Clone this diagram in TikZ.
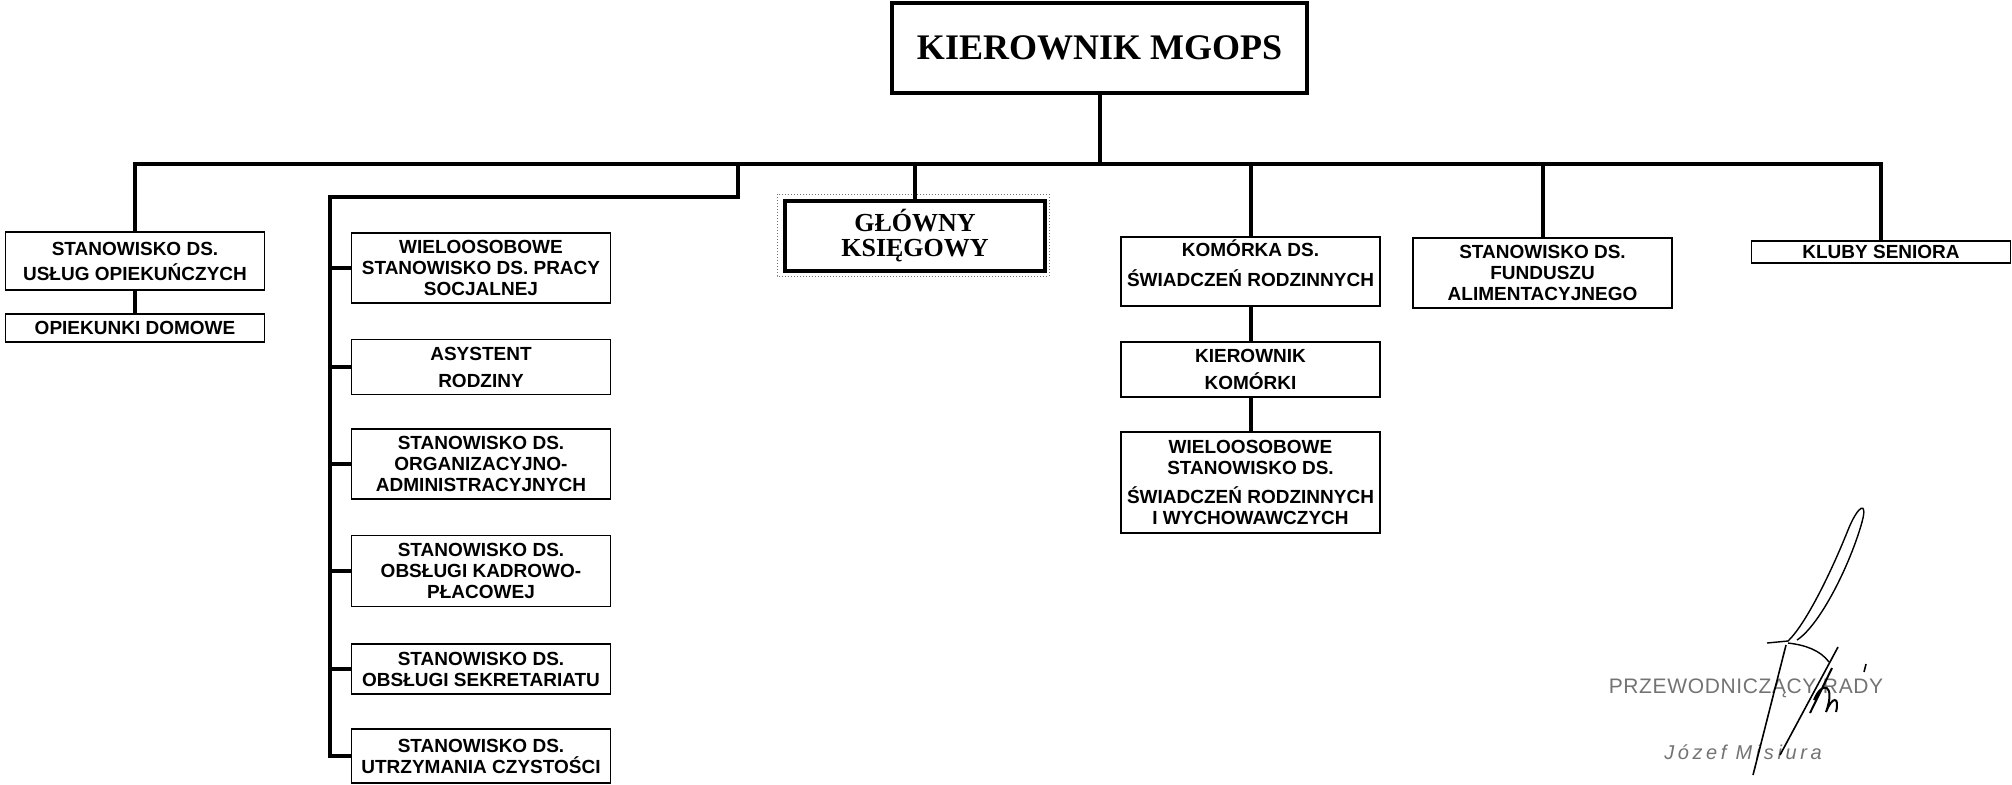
\documentclass[tikz,border=0pt]{standalone}
\usepackage{fontspec}
\newfontfamily\boxfont{Liberation Sans}
\newfontfamily\headfont{Liberation Serif}
\newfontfamily\stampfont[LetterSpace=3]{Liberation Sans}
\newfontfamily\namefont[LetterSpace=18]{Liberation Sans}

\begin{document}
\begin{tikzpicture}[x=0.5pt,y=-0.5pt,
    box/.style={draw,line width=0.8pt,align=center,inner sep=0pt,minimum width=129.5pt,
      font=\boxfont\bfseries\fontsize{9.5}{10.5}\selectfont},
    head/.style={draw,line width=2pt,align=center,inner sep=0pt,
      font=\headfont\bfseries\fontsize{18}{21}\selectfont},
    conn/.style={line width=2pt},
    stamp/.style={inner sep=0pt,text=black!55}]
  \useasboundingbox (0,0) rectangle (2012,784);
  \node[head,minimum width=207.5pt,minimum height=45pt] (top) at (1099.5,48) {KIEROWNIK MGOPS};
  \node[box,minimum height=29pt] (usl) at (135,261) {STANOWISKO DS.\\[2pt]USŁUG OPIEKUŃCZYCH};
  \node[box,minimum height=14pt] (opk) at (135,328) {OPIEKUNKI DOMOWE};
  \node[box,minimum height=35pt] (prac) at (481,268) {WIELOOSOBOWE\\STANOWISKO DS. PRACY\\SOCJALNEJ};
  \node[box,minimum height=27.5pt] (asys) at (481,367) {ASYSTENT\\[3pt]RODZINY};
  \node[box,minimum height=35pt] (org) at (481,464) {STANOWISKO DS.\\ORGANIZACYJNO-\\ADMINISTRACYJNYCH};
  \node[box,minimum height=35.5pt] (kadr) at (481,571) {STANOWISKO DS.\\OBSŁUGI KADROWO-\\PŁACOWEJ};
  \node[box,minimum height=25pt] (sekr) at (481,669) {STANOWISKO DS.\\OBSŁUGI SEKRETARIATU};
  \node[box,minimum height=27pt] (czys) at (481,756) {STANOWISKO DS.\\UTRZYMANIA CZYSTOŚCI};
  \node[head,line width=2.2pt,minimum width=130pt,minimum height=35pt,
    font=\headfont\bfseries\fontsize{13}{12.5}\selectfont] (glow) at (915,236) {GŁÓWNY\\KSIĘGOWY};
  \draw[black!55,line width=0.5pt,densely dotted] (777,194) rectangle (1049,276);
  \node[box,minimum height=34.5pt] (kom) at (1250.5,271.5) {KOMÓRKA DS.\\[4.5pt]ŚWIADCZEŃ RODZINNYCH\\[-2pt]};
  \node[box,minimum height=27.5pt] (kkom) at (1250.5,369.5) {KIEROWNIK\\[3pt]KOMÓRKI};
  \node[box,minimum height=50.5pt] (wsr) at (1250.5,482.5) {WIELOOSOBOWE\\STANOWISKO DS.\\[4pt]ŚWIADCZEŃ RODZINNYCH\\I WYCHOWAWCZYCH};
  \node[box,minimum height=35pt] (fund) at (1542.5,273) {STANOWISKO DS.\\FUNDUSZU\\ALIMENTACYJNEGO};
  \node[box,minimum height=11pt] (klub) at (1881,252) {KLUBY SENIORA};
  \coordinate (bus) at (1099.5,164);
  \coordinate (fork) at (738,197);
  \coordinate (rail) at (330,197);
  \draw[conn] (top.south) -- (bus);
  \draw[conn] (usl.north) |- (bus) -| (klub.north);
  \draw[conn] (glow.north) -- (glow.north |- bus);
  \draw[conn] (kom.north) -- (kom.north |- bus);
  \draw[conn] (fund.north) -- (fund.north |- bus);
  \draw[conn] (fork |- bus) -- (fork) -- (rail) |- (czys.west);
  \foreach \n in {prac,asys,org,kadr,sekr}
    \draw[conn] (rail |- \n.west) -- (\n.west);
  \draw[conn] (usl.south) -- (opk.north);
  \draw[conn] (kom.south) -- (kkom.north);
  \draw[conn] (kkom.south) -- (wsr.north);
  \node[stamp,font=\stampfont\fontsize{10.5}{10.5}\selectfont] (przew) at (1746,688) {PRZEWODNICZĄCY RADY};
  \node[stamp,font=\namefont\itshape\fontsize{10}{10}\selectfont] (name) at (1743,752) {Józef Misiura};
  \draw[line width=0.7pt] (1767,643) -- (1788,641) .. controls (1805,625) and (1830,575) .. (1848,530)
    .. controls (1858,505) and (1868,500) .. (1862,522) .. controls (1850,565) and (1820,625) .. (1797,640);
  \draw[line width=0.7pt] (1788,643) .. controls (1805,645) and (1820,650) .. (1829,662);
  \draw[line width=0.8pt] (1786,645) -- (1753,775);
  \draw[line width=0.8pt] (1838,647) -- (1780,755);
  \draw[line width=1pt] (1832,668) -- (1810,713) (1814,700) .. controls (1822,680) and (1836,684) .. (1826,712)
    .. controls (1832,696) and (1840,696) .. (1836,712);
  \draw[line width=0.8pt] (1866,664) -- (1864,672);
\end{tikzpicture}
\end{document}
